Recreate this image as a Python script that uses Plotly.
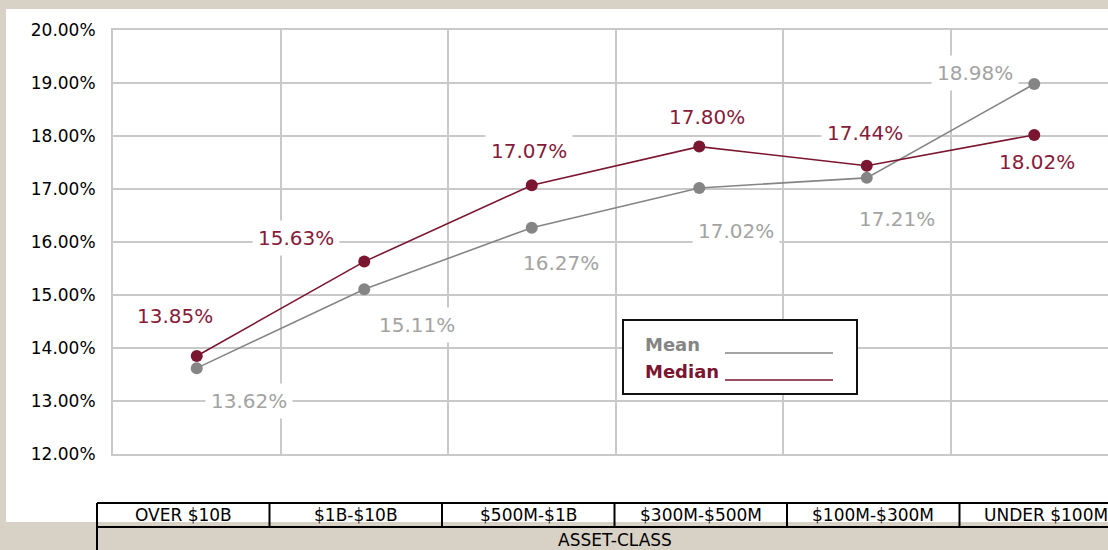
import plotly.graph_objects as go

categories = ["OVER $10B", "$1B-$10B", "$500M-$1B", "$300M-$500M", "$100M-$300M", "UNDER $100M"]
mean_vals = [13.62, 15.11, 16.27, 17.02, 17.21, 18.98]
median_vals = [13.85, 15.63, 17.07, 17.80, 17.44, 18.02]
y_ticks = [12, 13, 14, 15, 16, 17, 18, 19, 20]
table_title = "ASSET-CLASS"

# label offsets (pixels) relative to each point
median_off = [(-22, 40), (-68, 24), (-3, 34), (8, 30), (-2, 33), (3, -27)]
mean_off = [(52, -33), (53, -36), (29, -35), (37, -43), (30, -41), (-59, 11)]

W, H = 1108, 550
L, R, T, B = 113, 0, 30, 96
PW = W - L - R
PH = H - T - B

def px(x):
    return (x - L) / PW

def py(y):
    return (H - B - y) / PH

FONT = "DejaVu Sans"
MAROON = "#7b1631"
MAROON_T = "#861b3a"
GRAY = "#858585"
GRAY_T = "#a3a3a3"
GRID = "#c9c9c9"

xs = [i + 0.5 for i in range(len(categories))]

fig = go.Figure()
fig.add_trace(go.Scatter(x=xs, y=mean_vals, mode="lines+markers", name="Mean",
                         line=dict(color=GRAY, width=1.6),
                         marker=dict(color=GRAY, size=12), showlegend=False, cliponaxis=False))
fig.add_trace(go.Scatter(x=xs, y=median_vals, mode="lines+markers", name="Median",
                         line=dict(color=MAROON, width=1.6),
                         marker=dict(color=MAROON, size=12), showlegend=False, cliponaxis=False))

annotations = []
for x, v, (dx, dy) in zip(xs, median_vals, median_off):
    annotations.append(dict(x=x, y=v, xref="x", yref="y", text=f"{v:.2f}%", showarrow=False,
                            xshift=dx, yshift=dy, bgcolor="white", borderpad=5,
                            font=dict(family=FONT, size=20, color=MAROON_T)))
for x, v, (dx, dy) in zip(xs, mean_vals, mean_off):
    annotations.append(dict(x=x, y=v, xref="x", yref="y", text=f"{v:.2f}%", showarrow=False,
                            xshift=dx, yshift=dy, bgcolor="white", borderpad=5,
                            font=dict(family=FONT, size=20, color=GRAY_T)))

shapes = []
# white panel
shapes.append(dict(type="rect", xref="paper", yref="paper", x0=px(6), x1=px(1200), y0=py(522), y1=py(9),
                   fillcolor="white", line=dict(width=0), layer="below"))

# table
tx0, cw = 97, 172.5
ncol = len(categories)
tx1 = tx0 + cw * ncol
ty0, ty1, ty2 = 503, 527, 570
LINE = dict(color="black", width=2)
for yy in (ty0, ty1):
    shapes.append(dict(type="line", xref="paper", yref="paper", x0=px(tx0), x1=px(tx1), y0=py(yy), y1=py(yy), line=LINE))
for k in range(ncol + 1):
    xx = tx0 + k * cw
    shapes.append(dict(type="line", xref="paper", yref="paper", x0=px(xx), x1=px(xx), y0=py(ty0), y1=py(ty1), line=LINE))
for xx in (tx0, tx1):
    shapes.append(dict(type="line", xref="paper", yref="paper", x0=px(xx), x1=px(xx), y0=py(ty1), y1=py(ty2), line=LINE))
for k, c in enumerate(categories):
    annotations.append(dict(x=px(tx0 + cw * (k + 0.5)), y=py(515), xref="paper", yref="paper", text=c,
                            showarrow=False, font=dict(family=FONT, size=17, color="black"),
                            xanchor="center", yanchor="middle"))
annotations.append(dict(x=px((tx0 + tx1) / 2), y=py(540), xref="paper", yref="paper", text=table_title,
                        showarrow=False, font=dict(family=FONT, size=17, color="black"),
                        xanchor="center", yanchor="middle"))

# custom legend box
shapes.append(dict(type="rect", xref="paper", yref="paper", x0=px(623), x1=px(857), y0=py(394), y1=py(320),
                   fillcolor="white", line=dict(color="#111111", width=2)))
shapes.append(dict(type="line", xref="paper", yref="paper", x0=px(725), x1=px(833), y0=py(353), y1=py(353),
                   line=dict(color=GRAY, width=1.5)))
shapes.append(dict(type="line", xref="paper", yref="paper", x0=px(725), x1=px(833), y0=py(380), y1=py(380),
                   line=dict(color=MAROON, width=1.5)))
annotations.append(dict(x=px(643), y=py(344), xref="paper", yref="paper", text="<b>Mean</b>", showarrow=False,
                        xanchor="left", yanchor="middle", font=dict(family=FONT, size=18, color=GRAY)))
annotations.append(dict(x=px(643), y=py(371), xref="paper", yref="paper", text="<b>Median</b>", showarrow=False,
                        xanchor="left", yanchor="middle", font=dict(family=FONT, size=18, color=MAROON)))

fig.update_layout(
    width=W, height=H,
    margin=dict(l=L, r=R, t=T, b=B, pad=0),
    paper_bgcolor="#d8d1c5",
    plot_bgcolor="rgba(0,0,0,0)",
    shapes=shapes,
    annotations=annotations,
    showlegend=False,
)
fig.update_xaxes(range=[0, PW / 167.5], dtick=1, tick0=0, showticklabels=False, showgrid=True,
                 gridcolor=GRID, gridwidth=2, zeroline=False,
                 showline=True, mirror=True, linecolor=GRID, linewidth=2, ticks="")
fig.update_yaxes(range=[12, 20], tickvals=y_ticks, ticktext=[f"{t:.2f}%" for t in y_ticks],
                 showgrid=True, gridcolor=GRID, gridwidth=2, zeroline=False,
                 showline=True, mirror=False, linecolor=GRID, linewidth=2,
                 ticks="outside", ticklen=12, tickcolor="rgba(0,0,0,0)",
                 tickfont=dict(family=FONT, size=17, color="black"))

fig.write_html("out.html", config={"displayModeBar": False},
               post_script="document.body.style.margin='0';document.body.style.overflow='hidden';"
                           "document.body.style.background='#d8d1c5';")
